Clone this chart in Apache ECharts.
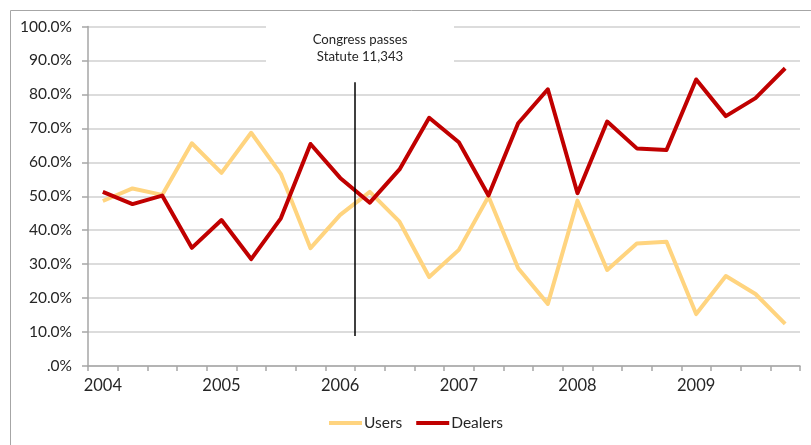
<!DOCTYPE html>
<html>
<head>
<meta charset="utf-8">
<script src="https://cdn.jsdelivr.net/npm/echarts@6/dist/echarts.min.js"></script>
<style>html,body{margin:0;padding:0;background:#fff}#c{width:811px;height:445px}</style>
</head>
<body>
<div id="c"></div>
<script>
const years = ['2004','2005','2006','2007','2008','2009'];
const quarters = ['Q1','Q2','Q3','Q4'];
const users = [48.6,52.3,50.4,65.6,56.9,68.7,56.6,34.7,44.5,51.3,42.5,26.2,34.2,49.9,28.8,18.3,48.7,28.3,36.1,36.6,15.3,26.5,21.2,12.4];
const dealers = [51.3,47.7,50.2,34.8,43.0,31.5,43.5,65.4,55.4,48.1,57.9,73.1,65.9,50.2,71.5,81.5,50.9,72.0,64.1,63.6,84.4,73.6,78.9,87.7];
const annotationX = [9, 9];
const annotationY = [83.6, 8.8];
const annotationText = 'Congress passes\nStatute 11,343';

const categories = [];
years.forEach(y => quarters.forEach(q => categories.push(y + ' ' + q)));

const FONT = 'Lato';
const chart = echarts.init(document.getElementById('c'));
chart.setOption({
  animation: false,
  textStyle: {fontFamily: FONT},
  grid: {left: 88, top: 26.5, right: 11, bottom: 79, containLabel: false},
  legend: {
    data: ['Users', 'Dealers'],
    bottom: 9, left: 324,
    icon: 'rect', itemWidth: 33, itemHeight: 4, itemGap: 14,
    textStyle: {fontFamily: FONT, fontSize: 15.5, color: '#262626', padding: [0,0,0,-3]}
  },
  xAxis: [{
    type: 'category', data: categories, boundaryGap: true,
    axisLine: {lineStyle: {color: '#a6a6a6', width: 1.5}},
    axisTick: {show: true, interval: 0, length: 5, lineStyle: {color: '#a6a6a6', width: 1.5}},
    axisLabel: {interval: 0, margin: 11, fontSize: 16.5, color: '#262626', fontFamily: FONT,
      formatter: (v, i) => i % 4 === 0 ? v.split(' ')[0] : ''},
    splitLine: {show: false}
  }, {
    type: 'value', min: 0, max: 24, show: false
  }],
  yAxis: {
    type: 'value', min: 0, max: 100, interval: 10,
    axisLine: {show: true, lineStyle: {color: '#a6a6a6', width: 1.5}},
    axisTick: {show: true, inside: false, length: 6, lineStyle: {color: '#a6a6a6', width: 1.5}},
    axisLabel: {margin: 16, fontSize: 15.5, color: '#262626', fontFamily: FONT,
      formatter: v => v === 0 ? '.0%' : v.toFixed(1) + '%'},
    splitLine: {lineStyle: {color: '#d0d0d0', width: 1.5}}
  },
  series: [{
    name: 'Users', type: 'line', data: users, showSymbol: false, symbol: 'none',
    lineStyle: {color: '#FFD47F', width: 4, join: 'round'}, itemStyle: {color: '#FFD47F'}, z: 3
  }, {
    name: 'Dealers', type: 'line', data: dealers, showSymbol: false, symbol: 'none',
    lineStyle: {color: '#C00000', width: 4, join: 'round'}, itemStyle: {color: '#C00000'}, z: 4
  }, {
    name: 'annotation', type: 'line', xAxisIndex: 1,
    data: annotationX.map((x, i) => [x, annotationY[i]]),
    showSymbol: false, symbol: 'none', silent: true,
    lineStyle: {color: '#000', width: 1.5}, z: 5
  }],
  graphic: [{
    type: 'rect', shape: {x: 10.5, y: 10.5, width: 1000, height: 1000},
    style: {fill: null, stroke: '#a6a6a6', lineWidth: 1}, z: 0, silent: true
  }, {
    type: 'rect', shape: {x: 266, y: 20, width: 188, height: 50},
    style: {fill: '#fff'}, z: 10, silent: true
  }, {
    type: 'text', x: 360, y: 48, z: 11, silent: true,
    style: {text: annotationText, fontFamily: FONT, fontSize: 13.2, fill: '#262626',
      align: 'center', verticalAlign: 'middle', lineHeight: 16.5}
  }]
});
</script>
</body>
</html>
